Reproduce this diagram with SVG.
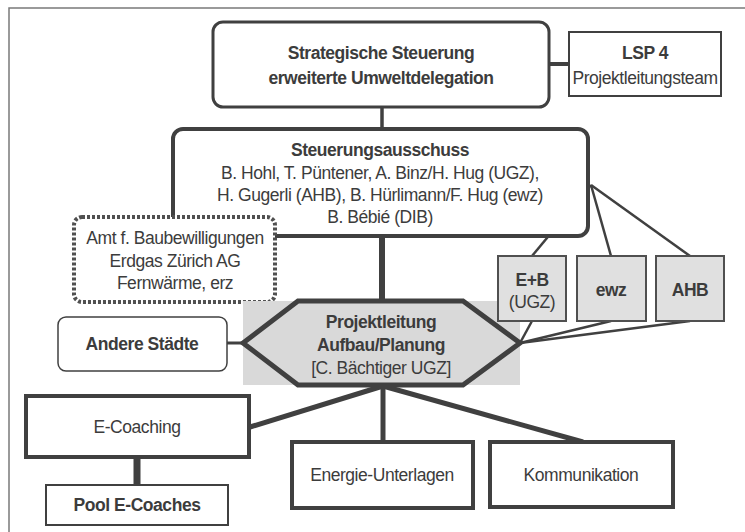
<svg xmlns="http://www.w3.org/2000/svg" width="745" height="532" viewBox="0 0 745 532">
<style>
text{font-family:"Liberation Sans",Arial,sans-serif;font-size:17.5px;fill:#3c3c3c;text-anchor:middle;letter-spacing:-0.45px}
.b{font-weight:bold}
.box{fill:#fff;stroke:#404040}
.gbox{fill:#e0e0e0;stroke:#505050;stroke-width:2}
.c{stroke:#404040;fill:none}
</style>
<rect width="745" height="532" fill="#fff"/>
<path d="M9,540 V8 H750" fill="none" stroke="#7a7a7a" stroke-width="1.5"/>
<g id="connectors">
<line class="c" x1="549" y1="64" x2="569" y2="64" stroke-width="4"/>
<line class="c" x1="382" y1="107" x2="382" y2="129" stroke-width="3.5"/>
<line class="c" x1="382" y1="236" x2="382" y2="301" stroke-width="6"/>
<line class="c" x1="227" y1="343" x2="243" y2="343" stroke-width="3"/>
<line class="c" x1="591" y1="185" x2="532" y2="256" stroke-width="2.5"/>
<line class="c" x1="591" y1="185" x2="611" y2="256" stroke-width="2.5"/>
<line class="c" x1="591" y1="185" x2="690" y2="256" stroke-width="2.5"/>
<line class="c" x1="520" y1="343" x2="532" y2="321" stroke-width="2.5"/>
<line class="c" x1="520" y1="343" x2="611" y2="321" stroke-width="2.5"/>
<line class="c" x1="520" y1="343" x2="690" y2="321" stroke-width="2.5"/>
<line class="c" x1="383" y1="386" x2="250" y2="427" stroke-width="5"/>
<line class="c" x1="383" y1="386" x2="383" y2="442" stroke-width="5"/>
<line class="c" x1="383" y1="386" x2="583" y2="442" stroke-width="5"/>
<line class="c" x1="137" y1="457" x2="137" y2="485" stroke-width="7" stroke-linecap="round"/>
</g>
<g id="strategische">
<rect class="box" x="213" y="22" width="336" height="85" rx="10" stroke-width="3"/>
<text class="b" x="381" y="59">Strategische Steuerung</text>
<text class="b" x="381" y="84">erweiterte Umweltdelegation</text>
</g>
<g id="lsp4">
<rect class="box" x="569" y="32" width="152" height="64" stroke-width="2"/>
<text class="b" x="645" y="59">LSP 4</text>
<text x="645" y="84">Projektleitungsteam</text>
</g>
<g id="steuerungsausschuss">
<rect class="box" x="173" y="129" width="415" height="107" rx="10" stroke-width="4"/>
<text class="b" x="380" y="156">Steuerungsausschuss</text>
<text x="380" y="179">B. Hohl, T. Püntener, A. Binz/H. Hug (UGZ),</text>
<text x="380" y="201">H. Gugerli (AHB), B. Hürlimann/F. Hug (ewz)</text>
<text x="380" y="223">B. Bébié (DIB)</text>
</g>
<g id="amt">
<rect x="74" y="217" width="201" height="85" rx="8" fill="#fff" stroke="#505050" stroke-width="4" stroke-dasharray="3 2"/>
<text x="175" y="244">Amt f. Baubewilligungen</text>
<text x="175" y="267">Erdgas Zürich AG</text>
<text x="175" y="289">Fernwärme, erz</text>
</g>
<g id="projektleitung">
<rect x="243" y="301" width="277" height="84" fill="#d9d9d9"/>
<polygon points="298,301 463,301 520,343 463,385 298,385 243,343" fill="#d9d9d9" stroke="#404040" stroke-width="5" stroke-linejoin="miter"/>
<text class="b" x="381" y="328">Projektleitung</text>
<text class="b" x="381" y="351">Aufbau/Planung</text>
<text x="381" y="374">[C. Bächtiger UGZ]</text>
</g>
<g id="eb">
<rect class="gbox" x="498" y="256" width="68" height="65"/>
<text class="b" x="532" y="286">E+B</text>
<text x="532" y="308">(UGZ)</text>
</g>
<g id="ewz">
<rect class="gbox" x="577" y="256" width="69" height="65"/>
<text class="b" x="611" y="296">ewz</text>
</g>
<g id="ahb">
<rect class="gbox" x="656" y="256" width="68" height="65"/>
<text class="b" x="690" y="296">AHB</text>
</g>
<g id="andere">
<rect class="box" x="58" y="317" width="169" height="54" rx="8" stroke-width="1.5"/>
<text class="b" x="142" y="350">Andere Städte</text>
</g>
<g id="ecoaching">
<rect class="box" x="26" y="396" width="223" height="61" stroke-width="4"/>
<text x="137" y="433">E-Coaching</text>
</g>
<g id="pool">
<rect class="box" x="46" y="485" width="182" height="40" stroke-width="2"/>
<text class="b" x="137" y="511">Pool E-Coaches</text>
</g>
<g id="energie">
<rect class="box" x="292" y="442" width="181" height="66" stroke-width="4"/>
<text x="382" y="481">Energie-Unterlagen</text>
</g>
<g id="kommunikation">
<rect class="box" x="490" y="442" width="183" height="65" stroke-width="4"/>
<text x="581" y="481">Kommunikation</text>
</g>
</svg>
